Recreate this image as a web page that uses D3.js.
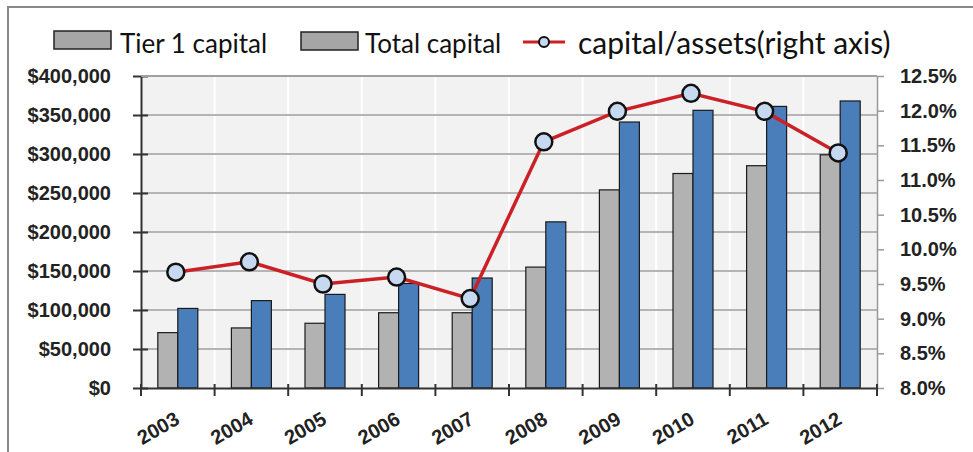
<!DOCTYPE html>
<html>
<head>
<meta charset="utf-8">
<script src="https://cdn.jsdelivr.net/npm/d3@7"></script>
<style>
  body { margin: 0; background: #fff; }
  svg { display: block; font-family: Lato, "Open Sans", sans-serif; }
  .axis text { font-weight: bold; fill: #222; }
</style>
</head>
<body>
<div id="chart"></div>
<script>
var years = ["2003","2004","2005","2006","2007","2008","2009","2010","2011","2012"];
var tier1 = [71000, 77000, 83000, 96500, 96500, 155000, 254000, 275000, 285000, 299000];
var total = [102000, 112000, 120000, 134000, 141000, 213000, 341000, 356000, 361000, 368000];
var ratio = [9.67, 9.82, 9.50, 9.60, 9.29, 11.55, 11.99, 12.25, 11.99, 11.39];
var leftTicks = [0, 50000, 100000, 150000, 200000, 250000, 300000, 350000, 400000];
var rightTicks = [8.0, 8.5, 9.0, 9.5, 10.0, 10.5, 11.0, 11.5, 12.0, 12.5];

var W = 973, H = 452;
var margin = {top: 76, right: 96, bottom: 64, left: 141};
var width = W - margin.left - margin.right;
var height = H - margin.top - margin.bottom;

var svg = d3.select("#chart").append("svg")
  .attr("width", W).attr("height", H);

// outer frame
svg.append("rect")
  .attr("x", 8).attr("y", 7).attr("width", W + 20).attr("height", H + 20)
  .attr("fill", "none").attr("stroke", "#8a8a8a").attr("stroke-width", 2);

var g = svg.append("g")
  .attr("transform", "translate(" + margin.left + "," + margin.top + ")");

var x = d3.scaleBand().domain(years).range([0, width]);
var y = d3.scaleLinear().domain([0, 400000]).range([height, 0]);
var y2 = d3.scaleLinear().domain([8, 12.5]).range([height, 0]);

// plot background
g.append("rect").attr("width", width).attr("height", height).attr("fill", "#f2f2f2");

// vertical white grid at category boundaries
g.selectAll(".vgrid").data(years.slice(1)).enter().append("line")
  .attr("x1", function(d) { return x(d); }).attr("x2", function(d) { return x(d); })
  .attr("y1", 0).attr("y2", height)
  .attr("stroke", "#fff").attr("stroke-width", 2);

// horizontal grid
g.selectAll(".hgrid").data(leftTicks.slice(1)).enter().append("line")
  .attr("x1", 0).attr("x2", width)
  .attr("y1", function(d) { return y(d); }).attr("y2", function(d) { return y(d); })
  .attr("stroke", "#b4b4b4").attr("stroke-width", 2);

// bars
var bw = 20;
var groups = g.selectAll(".grp").data(years).enter().append("g")
  .attr("transform", function(d) { return "translate(" + (x(d) + x.bandwidth() / 2) + ",0)"; });

groups.append("rect")
  .attr("x", -bw).attr("width", bw)
  .attr("y", function(d, i) { return y(tier1[i]); })
  .attr("height", function(d, i) { return height - y(tier1[i]); })
  .attr("fill", "#b2b2b2").attr("stroke", "#1a1a1a").attr("stroke-width", 1.2);

groups.append("rect")
  .attr("x", 0).attr("width", bw)
  .attr("y", function(d, i) { return y(total[i]); })
  .attr("height", function(d, i) { return height - y(total[i]); })
  .attr("fill", "#4a7ebb").attr("stroke", "#1a1a1a").attr("stroke-width", 1.2);

// axes
var yAxis = d3.axisLeft(y).tickValues(leftTicks)
  .tickFormat(function(d) { return "$" + d3.format(",")(d); })
  .tickSizeInner(8).tickSizeOuter(0).tickPadding(22);
var yAx = g.append("g").attr("class", "axis").call(yAxis);
yAx.select(".domain").attr("stroke", "#333").attr("stroke-width", 2);
yAx.selectAll(".tick line").attr("stroke", "#333").attr("stroke-width", 2)
  .attr("x1", 7);
yAx.selectAll("text").style("font-size", "20px");

var y2Axis = d3.axisRight(y2).tickValues(rightTicks)
  .tickFormat(function(d) { return d.toFixed(1) + "%"; })
  .tickSizeInner(7).tickSizeOuter(0).tickPadding(16);
var y2Ax = g.append("g").attr("class", "axis")
  .attr("transform", "translate(" + width + ",0)").call(y2Axis);
y2Ax.select(".domain").attr("stroke", "#999").attr("stroke-width", 1.5);
y2Ax.selectAll(".tick line").attr("stroke", "#999").attr("stroke-width", 1.5);
y2Ax.selectAll("text").style("font-size", "20px");

// top border of plot
g.append("line").attr("x1", 0).attr("x2", width).attr("y1", 0).attr("y2", 0)
  .attr("stroke", "#a0a0a0").attr("stroke-width", 2);

var xAxis = d3.axisBottom(x).tickSize(0).tickPadding(0);
var xAx = g.append("g").attr("class", "axis")
  .attr("transform", "translate(0," + height + ")").call(xAxis);
xAx.select(".domain").attr("stroke", "#333").attr("stroke-width", 2);
xAx.selectAll(".tick text")
  .style("font-size", "20px")
  .attr("text-anchor", "end")
  .attr("dy", 0)
  .attr("transform", "translate(3,35) rotate(-30)");
// x ticks at category boundaries
xAx.selectAll(".xb").data(years.concat(["end"])).enter().append("line")
  .attr("x1", function(d, i) { return i * x.step(); })
  .attr("x2", function(d, i) { return i * x.step(); })
  .attr("y1", -4).attr("y2", 8)
  .attr("stroke", "#333").attr("stroke-width", 2);

// ratio line
var line = d3.line()
  .x(function(d, i) { return x(years[i]) + x.bandwidth() / 2 - 2; })
  .y(function(d) { return y2(d); });
g.append("path").datum(ratio).attr("d", line)
  .attr("fill", "none").attr("stroke", "#cc2027").attr("stroke-width", 3.5);
g.selectAll(".pt").data(ratio).enter().append("circle")
  .attr("cx", function(d, i) { return x(years[i]) + x.bandwidth() / 2 - 2; })
  .attr("cy", function(d) { return y2(d); })
  .attr("r", 8.5)
  .attr("fill", "#c6d9f1").attr("stroke", "#111").attr("stroke-width", 2.5);

// legend
var leg = svg.append("g").attr("fill", "#111");
leg.append("rect").attr("x", 54).attr("y", 31).attr("width", 57).attr("height", 18)
  .attr("fill", "#a6a6a6").attr("stroke", "#222").attr("stroke-width", 1.5);
leg.append("text").attr("x", 120).attr("y", 53).attr("font-size", "26px").text("Tier 1 capital");
leg.append("rect").attr("x", 301).attr("y", 32).attr("width", 57).attr("height", 18)
  .attr("fill", "#a6a6a6").attr("stroke", "#222").attr("stroke-width", 1.5);
leg.append("text").attr("x", 365).attr("y", 53).attr("font-size", "26px").text("Total capital");
leg.append("line").attr("x1", 523).attr("x2", 565).attr("y1", 42).attr("y2", 42)
  .attr("stroke", "#cc2027").attr("stroke-width", 3);
leg.append("circle").attr("cx", 544).attr("cy", 42).attr("r", 5)
  .attr("fill", "#c6d9f1").attr("stroke", "#111").attr("stroke-width", 2);
leg.append("text").attr("x", 578).attr("y", 54).attr("font-size", "30px").text("capital/assets(right axis)");
</script>
</body>
</html>
